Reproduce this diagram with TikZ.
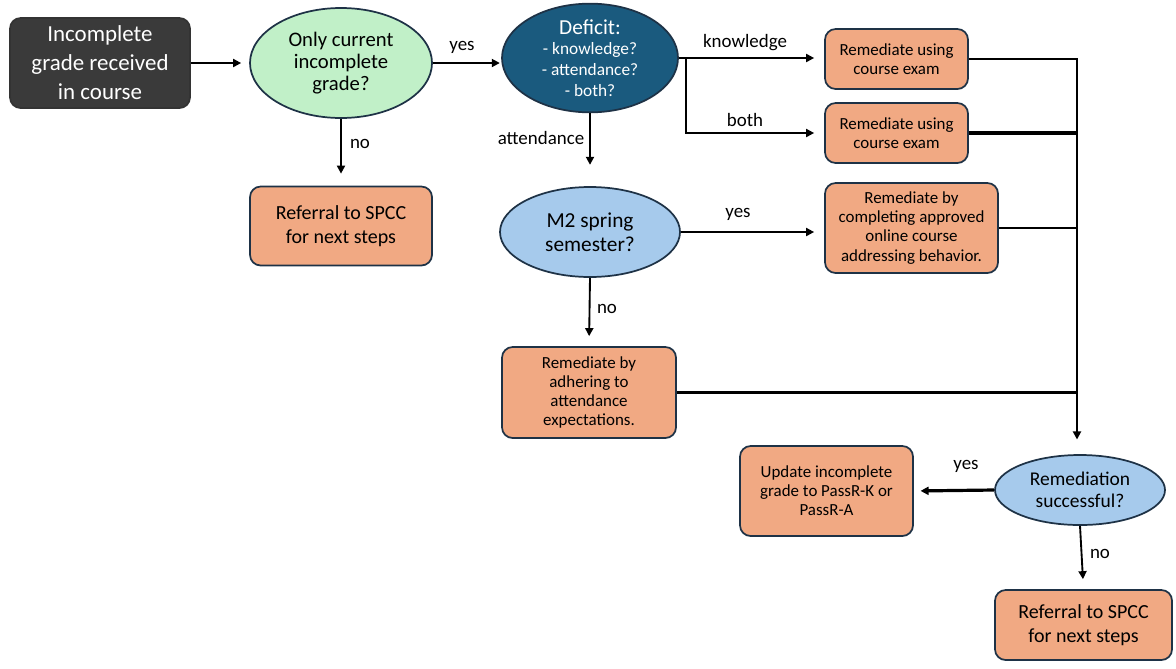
\documentclass[tikz,border=0pt]{standalone}
\usepackage{fontspec}
\setmainfont{Carlito}
\usetikzlibrary{shapes.geometric,arrows.meta}
\definecolor{orangebox}{HTML}{F1A983}
\definecolor{navy}{HTML}{1E3246}
\definecolor{darkbox}{HTML}{3A3A3A}
\definecolor{greenell}{HTML}{C1F0C8}
\definecolor{blueell}{HTML}{A6CAEC}
\definecolor{tealell}{HTML}{1A5A7E}
\begin{document}
\begin{tikzpicture}[x=0.75pt,y=-0.75pt,
  box/.style={draw=navy,line width=1.3pt,rounded corners=8pt,fill=orangebox,align=center,inner sep=0pt},
  ell/.style={ellipse,draw=navy,line width=1.3pt,align=center,inner sep=0pt},
  arr/.style={-{Triangle[length=6pt,width=6pt]},line width=1.4pt},
  conn/.style={line width=1.4pt},
  thickconn/.style={line width=2.4pt},
  lab/.style={font=\fontsize{14.2}{16}\selectfont},
  smalltxt/.style={font=\fontsize{12.7}{14.3}\selectfont}
]
\useasboundingbox (0,0) rectangle (1176,668);

% nodes
\node[box,fill=darkbox,draw=black!80,text=white,minimum width=135pt,minimum height=67.5pt,
  font=\fontsize{17.2}{21.75}\selectfont] (start) at (100,63) {Incomplete\\grade received\\in course};
\node[ell,fill=greenell,minimum width=136.5pt,minimum height=82.5pt,
  font=\fontsize{15.5}{16.5}\selectfont] (only) at (341,63) {Only current\\incomplete\\grade?};
\node[box,minimum width=136.5pt,minimum height=59.25pt,font=\fontsize{15}{18}\selectfont] (ref1) at (341,226) {Referral to SPCC\\for next steps};
\node[ell,fill=tealell,text=white,minimum width=132pt,minimum height=78pt,
  font=\fontsize{13}{15.5}\selectfont] (def) at (590,58)
  {{\fontsize{16}{16}\selectfont Deficit:}\\- knowledge?\\- attendance?\\- both?};
\node[box,smalltxt,minimum width=107.25pt,minimum height=45pt] (kbox) at (896.5,59) {Remediate using\\course exam};
\node[box,smalltxt,minimum width=107.25pt,minimum height=45pt] (bbox) at (896.5,133) {Remediate using\\course exam};
\node[ell,fill=blueell,minimum width=135pt,minimum height=67.5pt,font=\fontsize{16}{18}\selectfont] (m2) at (590,232) {M2 spring\\semester?};
\node[box,smalltxt,minimum width=129.75pt,minimum height=67.5pt] (obox) at (911.5,228) {Remediate by\\completing approved\\online course\\addressing behavior.};
\node[box,smalltxt,minimum width=130.5pt,minimum height=68.25pt] (abox) at (589,392.5) {Remediate by\\adhering to\\attendance\\expectations.};
\node[box,smalltxt,minimum width=129.75pt,minimum height=67.5pt] (ubox) at (826.5,491) {Update incomplete\\grade to PassR-K or\\PassR-A};
\node[ell,fill=blueell,minimum width=127.5pt,minimum height=52.5pt,font=\fontsize{14.6}{16.5}\selectfont] (rem) at (1080,490) {Remediation\\successful?};
\node[box,minimum width=132.75pt,minimum height=52.5pt,font=\fontsize{15}{18}\selectfont] (ref2) at (1083.5,625) {Referral to SPCC\\for next steps};

% connectors
\draw[arr,shorten >=6pt] (start.east) -- (only.west);
\draw[arr,shorten >=1pt] (only.east) -- (only.east -| def.west);
\draw[arr,shorten >=9pt] (only.south) -- (ref1.north);
\draw[arr,shorten >=7.5pt] (def.east) -- (def.east -| kbox.west);
\coordinate (br) at (686,58);
\draw[arr,shorten >=7.5pt] (br) |- (bbox.west);
\draw[arr,shorten >=16pt] (def.south) -- (m2.north);
\draw[arr,shorten >=7.5pt] (m2.east) -- (m2.east -| obox.west);
\draw[arr,shorten >=7.5pt] (m2.south) -- (abox.north);
\coordinate (bus) at (1077,57);
\draw[arr,shorten >=11pt] (kbox.east) -| (bus |- rem.north);
\draw[thickconn] (bbox.east) -- (bbox.east -| bus);
\draw[conn] (obox.east) -- (obox.east -| bus);
\draw[thickconn] (abox.east) -- (abox.east -| bus);
\draw[arr,line width=2.4pt,shorten >=5pt] (rem.west) -- (ubox.east);
\draw[arr,shorten >=7.5pt] (rem.south) -- (ref2.north);

% labels
\node[lab] (lyes1) at (462,47) {yes};
\node[lab] (lno1) at (360,144) {no};
\node[lab] (lknow) at (745,43) {knowledge};
\node[lab] (lboth) at (745,120) {both};
\node[lab] (latt) at (541,138) {attendance};
\node[lab] (lyes2) at (738,214) {yes};
\node[lab] (lno2) at (607,309) {no};
\node[lab] (lyes3) at (966,466) {yes};
\node[lab] (lno3) at (1100,554) {no};
\end{tikzpicture}
\end{document}
